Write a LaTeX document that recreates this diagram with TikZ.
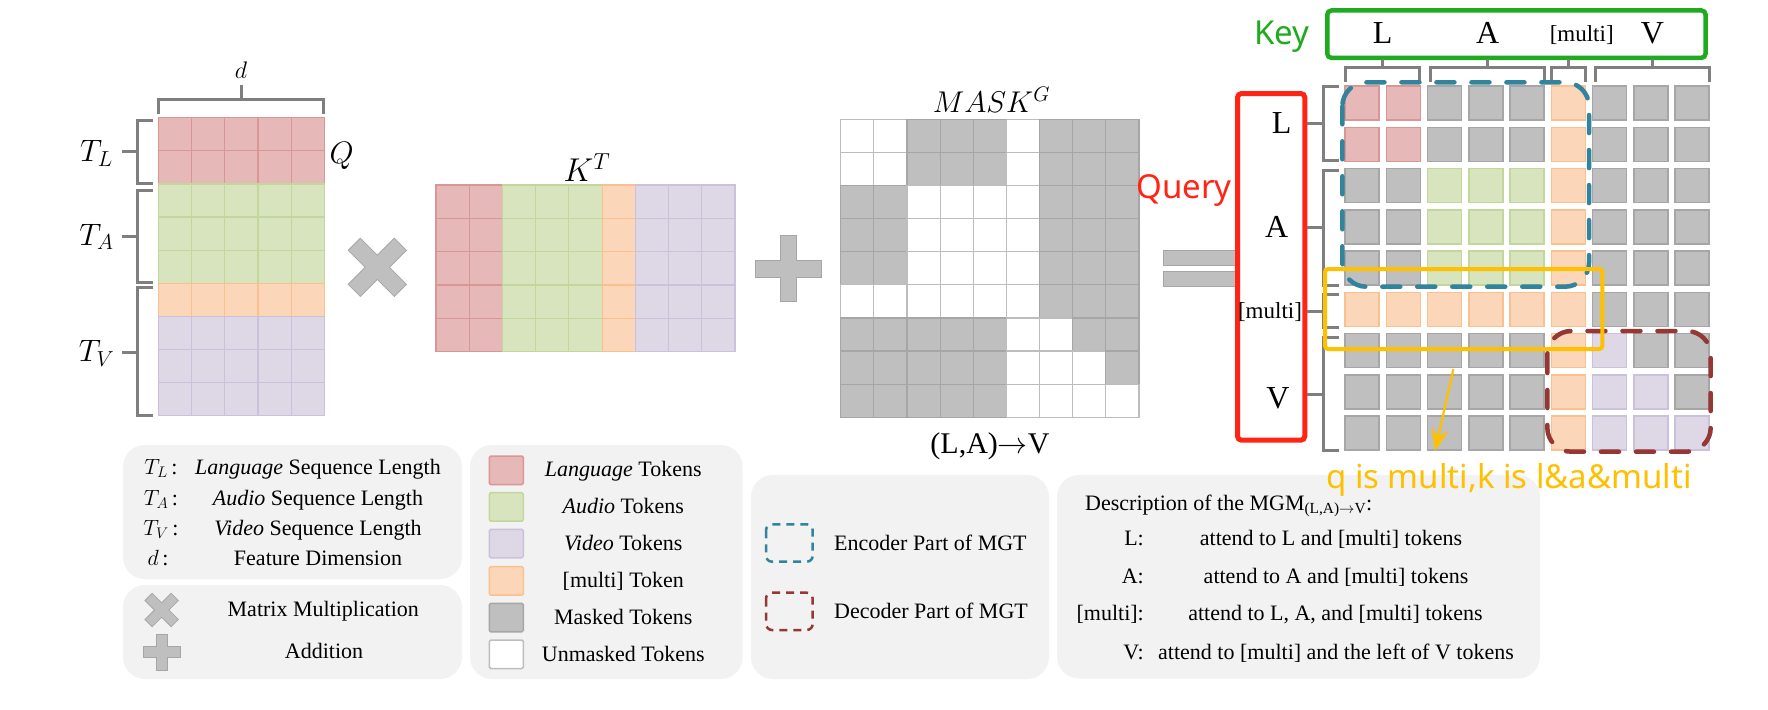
\RequirePackage{fix-cm}
\documentclass[tikz,border=0pt]{standalone}
\usepackage{fontspec}
\setmainfont{Liberation Serif}
\newfontfamily\yahei{Noto Sans}
\usetikzlibrary{arrows.meta}
\definecolor{LF}{HTML}{E6B9B8}\definecolor{LD}{HTML}{D99694}
\definecolor{AF}{HTML}{D7E4BD}\definecolor{AD}{HTML}{C3D69B}
\definecolor{VF}{HTML}{DED7E6}\definecolor{VD}{HTML}{CCC1DA}
\definecolor{MF}{HTML}{FBD6B8}\definecolor{MD}{HTML}{FAC090}
\definecolor{GF}{HTML}{BFBFBF}\definecolor{GD}{HTML}{A6A6A6}
\definecolor{WF}{HTML}{FFFFFF}\definecolor{WD}{HTML}{BDBDBD}
\definecolor{PB}{HTML}{F2F2F2}
\definecolor{BR}{HTML}{7F7F7F}
\definecolor{ENC}{HTML}{31849B}
\definecolor{DEC}{HTML}{953735}
\definecolor{YEL}{HTML}{FFC000}
\definecolor{KEYG}{HTML}{1FAA1F}
\definecolor{QRED}{HTML}{FF2414}
\newcommand\fs[1]{\fontsize{#1}{#1}\selectfont}
\tikzset{
  brk/.style={draw=BR, line width=3pt},
  panel/.style={fill=PB, rounded corners=22pt},
  opbar/.style={fill=GF, draw=GD, line width=1pt},
  opin/.style={fill=GF},
  lbl/.style={anchor=base, inner sep=0pt},
  encline/.style={draw=ENC, line width=4.5pt, dash pattern=on 18pt off 17pt, line cap=round, rounded corners=24pt},
  decline/.style={draw=DEC, line width=4.5pt, dash pattern=on 18pt off 17pt, line cap=round, rounded corners=24pt},
  encicon/.style={draw=ENC, line width=2.5pt, dash pattern=on 8pt off 6pt, rounded corners=6pt},
  decicon/.style={draw=DEC, line width=2.5pt, dash pattern=on 8pt off 6pt, rounded corners=6pt},
}
\begin{document}
\begin{tikzpicture}[x=1pt,y=-1pt]
\useasboundingbox[fill=white] (0,0) rectangle (1768,709);

% ---------- Q matrix ----------
\foreach \row [count=\r from 0] in {L,L,A,A,A,M,V,V,V}{
  \foreach \c in {0,...,4}{
    \path[fill=\row F, draw=\row D, line width=1.2pt] ({158.3+\c*33.2},{117.7+\r*33.1}) rectangle ++(33.2,33.1);
  }
}
% d bracket
\draw[brk] (158,114) -- (158,99.3) -- (323,99.3) -- (323,114);
\draw[brk] (241,99.3) -- (241,85);
% left brackets
\draw[brk] (153,120) -- (137.3,120) -- (137.3,183) -- (153,183);
\draw[brk] (137.3,151.7) -- (121.7,151.7);
\draw[brk] (153,190) -- (137.3,190) -- (137.3,282.7) -- (153,282.7);
\draw[brk] (137.3,236.7) -- (121.7,236.7);
\draw[brk] (153,287) -- (137.3,287) -- (137.3,415.7) -- (153,415.7);
\draw[brk] (137.3,352) -- (121.7,352);
\node[lbl, font=\fs{24}] (dlab) at (241,78.3) {$d$};
\node[lbl, font=\fs{31}] (TLlab) at (96.5,161.7) {$T_L$};
\node[lbl, font=\fs{31}] (TAlab) at (96.5,245) {$T_A$};
\node[lbl, font=\fs{31}] (TVlab) at (96.5,361.7) {$T_V$};
\node[lbl, font=\fs{31}] (Qlab) at (341.7,163) {$Q$};

% ---------- times operator ----------
\foreach \a in {45,-45}
  \path[opbar, rotate around={\a:(377.3,267.3)}] (344.8,258.8) rectangle (409.8,275.8);
\foreach \a in {45,-45}
  \path[opin, rotate around={\a:(377.3,267.3)}] (345.3,259.3) rectangle (409.3,275.3);

% ---------- K^T ----------
\foreach \ty [count=\c from 0] in {L,L,A,A,A,M,V,V,V}{
  \foreach \r in {0,...,4}{
    \path[fill=\ty F, draw=\ty D, line width=1.2pt] ({436+\c*33.22},{185+\r*33.34}) rectangle ++(33.22,33.34);
  }
}
\node[lbl, font=\fs{33}] (KTlab) at (587,181.7) {$K^T$};

% ---------- plus operator ----------
\path[opbar] (755,260) rectangle (821.7,277.3);
\path[opbar] (780,235) rectangle (796.5,301.7);
\path[opin] (755.5,260.5) rectangle (821.2,276.8);

% ---------- mask ----------
\foreach \row [count=\r from 0] in {
  {W,W,G,G,G,W,G,G,G},{W,W,G,G,G,W,G,G,G},
  {G,G,W,W,W,W,G,G,G},{G,G,W,W,W,W,G,G,G},{G,G,W,W,W,W,G,G,G},
  {W,W,W,W,W,W,G,G,G},
  {G,G,G,G,G,W,W,G,G},{G,G,G,G,G,W,W,W,G},{G,G,G,G,G,W,W,W,W}}{
  \foreach \ty [count=\c from 0] in \row {
    \path[fill=\ty F, draw=\ty D, line width=1.2pt] ({840.7+\c*33.14},{119.3+\r*33.11}) rectangle ++(33.14,33.11);
  }
}
\node[lbl, font=\fs{30}] (masklab) at (991.5,112.3) {$MASK^G$};
\node[lbl, font=\fs{30}] (lavlab) at (990,453.3) {(L,A)$\rightarrow$V};

% ---------- equals ----------
\path[opbar] (1163,250) rectangle (1236,265.7);
\path[opbar] (1163,271.7) rectangle (1236,286.7);

% ---------- query box ----------
\path[draw=QRED, fill=white, line width=5pt, rounded corners=4pt] (1237.5,93.5) rectangle (1304.8,440.2);
\node[lbl, font=\fs{32}] (qL) at (1281.7,133.3) {L};
\node[lbl, font=\fs{32}] (qA) at (1276.7,237) {A};
\node[lbl, font=\fs{23}] (qM) at (1270,318.3) {[multi]};
\node[lbl, font=\fs{32}] (qV) at (1278,408.3) {V};
\node[lbl, font=\yahei\fs{33}, text=QRED] (query) at (1184,198.3) {Query};

% ---------- key box ----------
\path[draw=KEYG, line width=4.5pt, rounded corners=4pt] (1327.3,10.5) rectangle (1705.5,57.8);
\node[lbl, font=\fs{32}] (kL) at (1382.7,43.3) {L};
\node[lbl, font=\fs{32}] (kA) at (1487.7,43.3) {A};
\node[lbl, font=\fs{23}] (kM) at (1581.7,41.7) {[multi]};
\node[lbl, font=\fs{32}] (kV) at (1652.3,43.3) {V};
\node[lbl, font=\yahei\fs{33}, text=KEYG] (key) at (1282,45) {Key};

% ---------- result matrix ----------
\foreach \row [count=\r from 0] in {
  {L,L,G,G,G,M,G,G,G},{L,L,G,G,G,M,G,G,G},
  {G,G,A,A,A,M,G,G,G},{G,G,A,A,A,M,G,G,G},{G,G,A,A,A,M,G,G,G},
  {M,M,M,M,M,M,G,G,G},
  {G,G,G,G,G,M,V,G,G},{G,G,G,G,G,M,V,V,G},{G,G,G,G,G,M,V,V,V}}{
  \foreach \ty [count=\c from 0] in \row {
    \path[fill=\ty F, draw=\ty D, line width=1.5pt] ({1345+\c*41.25},{86+\r*41.25}) rectangle ++(34,34);
  }
}
% top brackets
\draw[brk] (1345,81.7) -- (1345,67) -- (1419,67) -- (1419,81.7);
\draw[brk] (1382,67) -- (1382,59);
\draw[brk] (1430.7,81.7) -- (1430.7,67) -- (1544.3,67) -- (1544.3,81.7);
\draw[brk] (1487.5,67) -- (1487.5,59);
\draw[brk] (1551,81.7) -- (1551,67) -- (1585,67) -- (1585,81.7);
\draw[brk] (1568,67) -- (1568,59);
\draw[brk] (1595,81.7) -- (1595,67) -- (1709,67) -- (1709,81.7);
\draw[brk] (1652,67) -- (1652,59);
% left brackets
\draw[brk] (1339,86.7) -- (1323.3,86.7) -- (1323.3,160) -- (1339,160);
\draw[brk] (1323.3,123.3) -- (1307,123.3);
\draw[brk] (1339,170.7) -- (1323.3,170.7) -- (1323.3,285) -- (1339,285);
\draw[brk] (1323.3,227.7) -- (1307,227.7);
\draw[brk] (1339,294.3) -- (1323.3,294.3) -- (1323.3,327.7) -- (1339,327.7);
\draw[brk] (1323.3,311) -- (1307,311);
\draw[brk] (1339,337.7) -- (1323.3,337.7) -- (1323.3,450.7) -- (1339,450.7);
\draw[brk] (1323.3,394.3) -- (1307,394.3);

% encoder / multi / decoder outlines
\path[encline] (1342.3,82.3) rectangle (1589,286.7);
\path[decline] (1547.3,331) rectangle (1710.7,451.7);
\path[draw=YEL, line width=4pt, rounded corners=3pt] (1325,269) rectangle (1602.3,349);
\coordinate (arrS) at (1453.3,369.3);
\coordinate (arrE) at (1435,451);
\draw[YEL, line width=2.2pt, -{Stealth[length=22pt, width=17pt, inset=7pt]}] (arrS) -- (arrE);

% ---------- legend panels ----------
\path[panel] (123,445) rectangle (462,579);
\path[panel] (123,585) rectangle (462,679);
\path[panel] (470,445) rectangle (742.7,679);
\path[panel] (751,475) rectangle (1049,679);
\path[panel] (1057,475) rectangle (1540,678.5);
\node[anchor=base west, inner sep=0pt, font=\yahei\fs{33}, text=YEL] (qk) at (1326,488.3) {q is multi,k is l\&a\&multi};

% panel 1
\node[lbl, font=\fs{22}] (l1a) at (161,474.3) {$T_L$\,:};
\node[lbl, font=\fs{22}] (l1b) at (318,474.3) {\textit{Language} Sequence Length};
\node[lbl, font=\fs{22}] (l2a) at (161,505) {$T_A$\,:};
\node[lbl, font=\fs{22}] (l2b) at (318,505) {\textit{Audio} Sequence Length};
\node[lbl, font=\fs{22}] (l3a) at (161,535) {$T_V$\,:};
\node[lbl, font=\fs{22}] (l3b) at (318,535) {\textit{Video} Sequence Length};
\node[lbl, font=\fs{22}] (l4a) at (158,565.7) {$d$\,:};
\node[lbl, font=\fs{22}] (l4b) at (318,565.7) {Feature Dimension};

% panel 2
\foreach \a in {45,-45}
  \path[opbar, rotate around={\a:(161.7,610)}] (143.3,605) rectangle (180.1,615);
\foreach \a in {45,-45}
  \path[opin, rotate around={\a:(161.7,610)}] (143.8,605.5) rectangle (179.6,614.5);
\path[opbar] (143.3,646.2) rectangle (180.7,657.8);
\path[opbar] (156.2,634) rectangle (167.8,670);
\path[opin] (143.8,646.7) rectangle (180.2,657.3);
\node[lbl, font=\fs{22}] (mm) at (323.3,616.7) {Matrix Multiplication};
\node[lbl, font=\fs{22}] (add) at (324,658.3) {Addition};

% panel 3
\foreach \ty/\yy/\bl/\txt [count=\i] in {
  L/456/476.7/{\textit{Language} Tokens},
  A/492.7/513.3/{\textit{Audio} Tokens},
  V/529.3/550/{\textit{Video} Tokens},
  M/566.7/587.3/{[multi] Token},
  G/603.3/624.3/{Masked Tokens},
  W/640/661.7/{Unmasked Tokens}}{
  \path[fill=\ty F, draw=\ty D, line width=1.5pt, rounded corners=1.5pt] (489.3,\yy) rectangle ++(34,28.5);
  \node[lbl, font=\fs{22}] (tok\i) at (623.3,\bl) {\txt};
}

% panel 4
\path[encicon] (766,524.3) rectangle (812.7,561.7);
\path[decicon] (766,592.7) rectangle (812.7,630);
\node[anchor=base west, inner sep=0pt, font=\fs{22}] (enc) at (834,550) {Encoder Part of MGT};
\node[anchor=base west, inner sep=0pt, font=\fs{22}] (dec) at (834,618.3) {Decoder Part of MGT};

% panel 5
\node[anchor=base west, inner sep=0pt, font=\fs{22}] (desc) at (1085,510) {Description of the MGM\textsubscript{(L,A)$\rightarrow$V}:};
\node[anchor=base east, inner sep=0pt, font=\fs{22}] (dL) at (1144,545) {L:};
\node[lbl, font=\fs{22}] (dLt) at (1331,545) {attend to L and [multi] tokens};
\node[anchor=base east, inner sep=0pt, font=\fs{22}] (dA) at (1144,583.3) {A:};
\node[lbl, font=\fs{22}] (dAt) at (1336,583.3) {attend to A and [multi] tokens};
\node[anchor=base east, inner sep=0pt, font=\fs{22}] (dM) at (1144,620) {[multi]:};
\node[lbl, font=\fs{22}] (dMt) at (1335.5,620) {attend to L, A, and [multi] tokens};
\node[anchor=base east, inner sep=0pt, font=\fs{22}] (dV) at (1144,659.3) {V:};
\node[lbl, font=\fs{22}] (dVt) at (1336,659.3) {attend to [multi] and the left of V tokens};
\end{tikzpicture}
\end{document}
